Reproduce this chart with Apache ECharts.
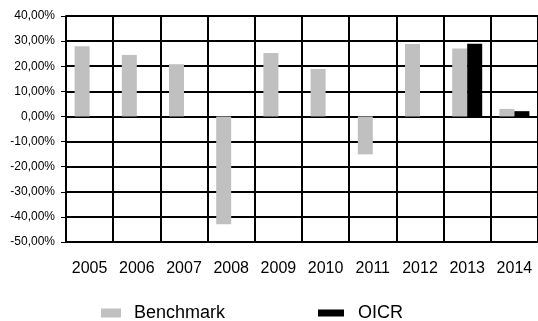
<!DOCTYPE html>
<html>
<head>
<meta charset="utf-8">
<script src="https://cdn.jsdelivr.net/npm/echarts@6/dist/echarts.min.js"></script>
<style>
  html, body { margin: 0; padding: 0; background: #fff; }
  #main { width: 538px; height: 321px; }
</style>
</head>
<body>
<div id="main"></div>
<script>
var years = ['2005', '2006', '2007', '2008', '2009', '2010', '2011', '2012', '2013', '2014'];
var benchmark = [28.0, 24.5, 20.8, -42.9, 25.3, 18.9, -15.1, 28.8, 27.1, 3.0];
var oicr = [null, null, null, null, null, null, null, null, 28.9, 2.1];
var yTicks = { min: -50, max: 40, step: 10 };

var myChart = echarts.init(document.getElementById('main'));

// percent labels written with a decimal comma
function pct(v) {
    return v.toFixed(2).replace('.', ',') + '%';
}

option = {
    animation: false,
    textStyle: { fontFamily: 'Liberation Sans, Arial, sans-serif' },
    grid: {
        left: 66,
        top: 16,
        height: 226,
        right: -2
    },
    legend: [{
        data: ['Benchmark'],
        left: 96,
        top: 299,
        itemWidth: 20,
        itemHeight: 9,
        textStyle: { fontSize: 18, color: '#000', padding: [0, 0, 0, 8] },
        icon: 'rect'
    }, {
        data: ['OICR'],
        left: 313,
        top: 299,
        itemWidth: 26,
        itemHeight: 7,
        textStyle: { fontSize: 18, color: '#000', padding: [0, 0, 0, 9] },
        icon: 'rect'
    }],
    xAxis: [{
        type: 'category',
        data: years,
        axisLine: {
            onZero: false,
            lineStyle: { color: '#000', width: 2 }
        },
        axisTick: { show: false },
        axisLabel: { color: '#000', fontSize: 16, margin: 19 },
        splitLine: {
            show: true,
            lineStyle: { color: '#000', width: 2 }
        }
    }],
    yAxis: [{
        type: 'value',
        min: yTicks.min,
        max: yTicks.max,
        interval: yTicks.step,
        axisLine: {
            show: true,
            lineStyle: { color: '#000', width: 2 }
        },
        axisTick: {
            show: true,
            length: 5,
            lineStyle: { color: '#000', width: 1 }
        },
        axisLabel: {
            color: '#000',
            fontSize: 12,
            margin: 11,
            formatter: pct
        },
        splitLine: {
            lineStyle: { color: '#000', width: 2 }
        }
    }],
    series: [{
        name: 'Benchmark',
        type: 'bar',
        barWidth: 15,
        barGap: '0%',
        data: benchmark,
        itemStyle: { color: '#c0c0c0' }
    }, {
        name: 'OICR',
        type: 'bar',
        barWidth: 15,
        data: oicr,
        itemStyle: { color: '#000' }
    }]
};

myChart.setOption(option);
</script>
</body>
</html>
